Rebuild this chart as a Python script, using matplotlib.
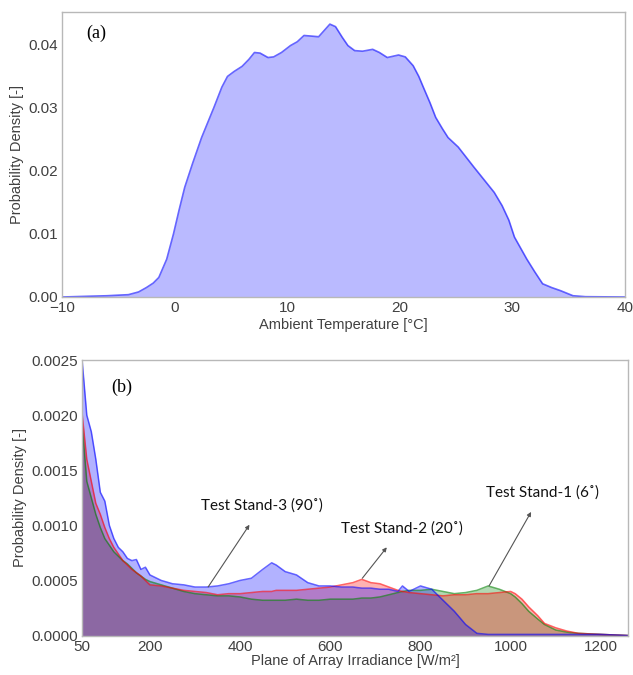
import matplotlib
matplotlib.use("Agg")
import matplotlib.pyplot as plt

# (a) ambient temperature density
temp_x = [-10, -6, -4.1, -3.2, -2.5, -1.9, -1.4, -0.7, -0.1, 0.4, 0.9, 1.6, 2.4, 3.5, 4.2,
          4.7, 5.3, 6.0, 6.6, 7.1, 7.6, 8.3, 8.8, 9.5, 10.3, 10.9, 11.5, 12.8, 13.8, 14.3,
          14.9, 15.4, 16.0, 16.7, 17.6, 18.2, 18.9, 19.9, 20.5, 21.2, 21.7, 22.1, 22.7,
          23.2, 23.8, 24.3, 25.2, 26.6, 28.4, 29.1, 29.7, 30.2, 31.3, 32.0, 32.7, 33.5,
          34.3, 35.4, 36.5, 40]
temp_density = [0.0, 0.0002, 0.00037, 0.0008, 0.0015, 0.0022, 0.0031, 0.006, 0.010, 0.0138,
                0.0174, 0.0212, 0.0253, 0.0301, 0.0333, 0.0350, 0.0358, 0.0366, 0.0377,
                0.0388, 0.0387, 0.0380, 0.0381, 0.0388, 0.0399, 0.0405, 0.0415, 0.0413,
                0.0433, 0.0429, 0.0412, 0.0399, 0.0391, 0.0390, 0.0393, 0.0388, 0.0380,
                0.0384, 0.0381, 0.0367, 0.0350, 0.0333, 0.0308, 0.0285, 0.0267, 0.0253,
                0.0238, 0.0206, 0.0166, 0.0145, 0.0122, 0.0095, 0.0060, 0.0040, 0.0021,
                0.0015, 0.0010, 0.0002, 0.00005, 0.0]

# (b) plane of array irradiance densities
irr_x = [50, 60, 70, 80, 90, 100, 110, 120, 130, 140, 150, 160, 170, 180, 190, 200, 225, 250,
         275, 300, 325, 350, 375, 400, 425, 450, 470, 480, 500, 525, 550, 575, 600, 625, 650,
         670, 690, 710, 730, 750, 760, 775, 800, 825, 850, 875, 900, 925, 950, 975, 1000,
         1010, 1025, 1040, 1060, 1075, 1100, 1125, 1150, 1200, 1260]
stand3 = [0.00248, 0.0020, 0.00185, 0.0016, 0.0013, 0.00122, 0.00100, 0.00088, 0.00080,
          0.00076, 0.00070, 0.00068, 0.00069, 0.00060, 0.00062, 0.00055, 0.00050, 0.00047,
          0.00046, 0.00044, 0.00044, 0.00045, 0.00047, 0.00050, 0.00052, 0.00060, 0.00066,
          0.00064, 0.00058, 0.00055, 0.00048, 0.00045, 0.00045, 0.00044, 0.00044, 0.00043,
          0.00043, 0.00042, 0.00042, 0.00040, 0.00045, 0.00040, 0.00045, 0.00042, 0.00032,
          0.00022, 0.00010, 0.00002, 0.00001, 0.00001, 0.00001, 0.00001, 0.00001, 0.00001,
          0.00001, 0.00001, 0.00001, 0.00001, 0.00001, 0.00001, 0.0]
stand2 = [0.0020, 0.0016, 0.0014, 0.0012, 0.0011, 0.00098, 0.00088, 0.00080, 0.00074, 0.00068,
          0.00064, 0.00060, 0.00057, 0.00054, 0.00050, 0.00046, 0.00045, 0.00043, 0.00041,
          0.00040, 0.00039, 0.00037, 0.00038, 0.00038, 0.00039, 0.00040, 0.00040, 0.00041,
          0.00041, 0.00041, 0.00042, 0.00043, 0.00044, 0.00046, 0.00048, 0.00051, 0.00048,
          0.00047, 0.00044, 0.00041, 0.00040, 0.00039, 0.00038, 0.00037, 0.00036, 0.00037,
          0.00037, 0.00038, 0.00038, 0.00039, 0.00040, 0.00038, 0.00033, 0.00026, 0.00018,
          0.00011, 0.00007, 0.00004, 0.00002, 0.00001, 0.0]
stand1 = [0.0019, 0.0014, 0.00125, 0.0011, 0.00098, 0.00088, 0.00082, 0.00076, 0.00072, 0.00068,
          0.00065, 0.00061, 0.00057, 0.00054, 0.00051, 0.00049, 0.00046, 0.00043, 0.00040,
          0.00038, 0.00037, 0.00036, 0.00036, 0.00035, 0.00033, 0.00032, 0.00032, 0.00032,
          0.00032, 0.00033, 0.00032, 0.00032, 0.00033, 0.00033, 0.00033, 0.00034, 0.00034,
          0.00035, 0.00037, 0.00039, 0.00040, 0.00041, 0.00041, 0.00042, 0.00040, 0.00038,
          0.00039, 0.00041, 0.00045, 0.00042, 0.00038, 0.00035, 0.00029, 0.00022, 0.00015,
          0.00010, 0.00005, 0.00003, 0.00002, 0.00001, 0.0]

plt.rcParams['font.family'] = ['Liberation Sans', 'DejaVu Sans']
tick_color = '#404040'
spine_color = '#b8b8b8'

fig = plt.figure(figsize=(6.33, 6.75), dpi=100)
ax1 = fig.add_axes([0.098, 0.56, 0.889, 0.422])
ax2 = fig.add_axes([0.13, 0.0585, 0.862, 0.408])

# top panel
ax1.fill_between(temp_x, temp_density, color='blue', alpha=0.27, lw=0)
ax1.plot(temp_x, temp_density, color='blue', alpha=0.6, lw=1.2)
ax1.set_xlim(-10, 40)
ax1.set_ylim(0, 0.0452)
ax1.set_xticks([-10, 0, 10, 20, 30, 40])
ax1.set_yticks([0, 0.01, 0.02, 0.03, 0.04])
ax1.set_yticklabels(['0.00', '0.01', '0.02', '0.03', '0.04'])
ax1.set_xlabel('Ambient Temperature [°C]', fontsize=10.5, color=tick_color, labelpad=2)
ax1.set_ylabel('Probability Density [-]', fontsize=10.5, color=tick_color, labelpad=3)
ax1.text(0.06, 0.926, '(a)', transform=ax1.transAxes, fontsize=13,
         family='Liberation Serif', va='center', ha='center')

# bottom panel
series = [(stand1, 'green'), (stand2, 'red'), (stand3, 'blue')]
for vals, c in series:
    ax2.fill_between(irr_x, vals, color=c, alpha=0.3, lw=0)
for vals, c in series:
    ax2.plot(irr_x, vals, color=c, alpha=0.6, lw=1.1)
ax2.set_xlim(50, 1260)
ax2.set_ylim(0, 0.0025)
ax2.set_xticks([50, 200, 400, 600, 800, 1000, 1200])
ax2.set_yticks([0, 0.0005, 0.001, 0.0015, 0.002, 0.0025])
ax2.set_yticklabels(['0.0000', '0.0005', '0.0010', '0.0015', '0.0020', '0.0025'])
ax2.set_xlabel('Plane of Array Irradiance [W/m²]', fontsize=10.5, color=tick_color, labelpad=0)
ax2.set_ylabel('Probability Density [-]', fontsize=10.5, color=tick_color, labelpad=3)
ax2.text(0.073, 0.9, '(b)', transform=ax2.transAxes, fontsize=13,
         family='Liberation Serif', va='center', ha='center')

notes = [('Test Stand-3 (90˚)', (329, 0.00044), (449, 0.00118)),
         ('Test Stand-2 (20˚)', (671, 0.00052), (758, 0.00097)),
         ('Test Stand-1 (6˚)', (952, 0.00045), (1070, 0.0013))]
for label, pt, txt in notes:
    ax2.annotate(label, xy=pt, xytext=txt, ha='center', va='center', fontsize=11,
                 family=['Lato', 'DejaVu Sans'], color='#111111',
                 arrowprops=dict(arrowstyle='<|-', color='#555555', lw=0.8,
                                 mutation_scale=6, shrinkA=8, shrinkB=0))

for ax in (ax1, ax2):
    ax.tick_params(length=0, labelsize=11, colors=tick_color, pad=3)
    for s in ax.spines.values():
        s.set_color(spine_color)
        s.set_linewidth(1)

plt.savefig('out.png', dpi=100)
